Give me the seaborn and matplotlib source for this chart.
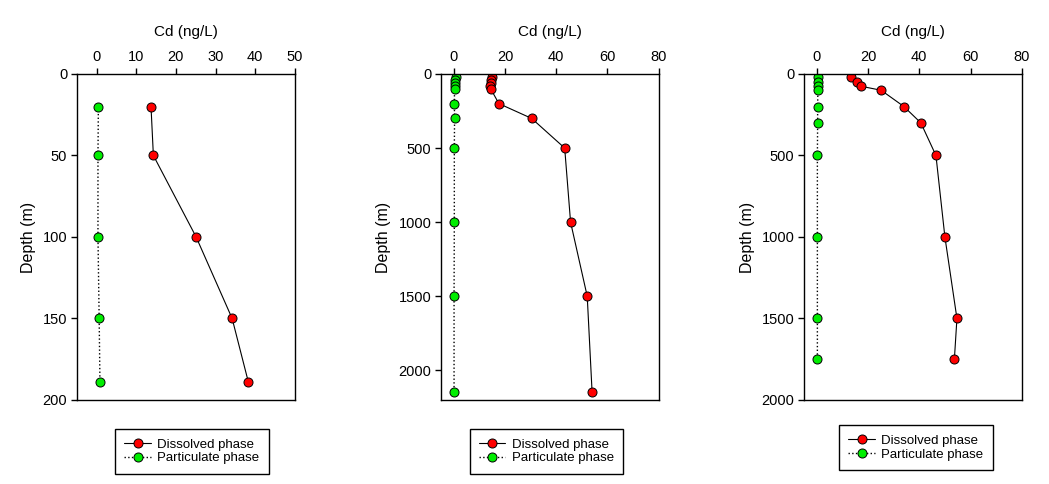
import numpy as np
import pandas as pd
import matplotlib
matplotlib.use('Agg')
import matplotlib.pyplot as plt
import seaborn as sns

# Station 1
depth_1 = [20, 50, 100, 150, 189]
dissolved_1 = [13.7, 14.3, 25.1, 34.2, 38.3]
particulate_1 = [0.4, 0.3, 0.3, 0.6, 0.8]

# Station 2
depth_2 = [20, 40, 60, 80, 100, 200, 300, 500, 1000, 1500, 2146]
dissolved_2 = [15.1, 14.6, 14.4, 14.3, 14.4, 17.6, 30.4, 43.3, 45.6, 52.1, 54.0]
particulate_2 = [1.0, 0.6, 0.5, 0.4, 0.3, 0.2, 0.3, 0.2, 0.2, 0.1, 0.1]

# Station 3
depth_3 = [20, 50, 75, 100, 200, 300, 500, 1000, 1500, 1750]
dissolved_3 = [13.2, 15.5, 17.1, 25.1, 34.0, 40.6, 46.5, 50.0, 54.7, 53.7]
particulate_3 = [0.3, 0.3, 0.3, 0.4, 0.3, 0.3, 0.2, 0.2, 0.2, 0.2]

panels = [
    (depth_1, dissolved_1, particulate_1, (-5, 50), range(0, 51, 10), 200, range(0, 201, 50)),
    (depth_2, dissolved_2, particulate_2, (-5, 80), range(0, 81, 20), 2200, range(0, 2001, 500)),
    (depth_3, dissolved_3, particulate_3, (-5, 80), range(0, 81, 20), 2000, range(0, 2001, 500)),
]

# axes placement (figure fractions) and legend anchors
ax_lefts = [0.0734, 0.4204, 0.7665]
legend_anchor = [(0.528, -0.07), (0.484, -0.07), (0.514, -0.058)]

sns.set_style('ticks')
plt.rcParams['font.family'] = ['Liberation Sans', 'DejaVu Sans']
plt.rcParams['font.size'] = 10.5
plt.rcParams['text.color'] = 'black'
plt.rcParams['axes.labelcolor'] = 'black'
plt.rcParams['xtick.color'] = 'black'
plt.rcParams['ytick.color'] = 'black'

fig = plt.figure(figsize=(10.49, 4.84), dpi=100)

for i, (depth, diss, part, xlim, xticks, ymax, yticks) in enumerate(panels):
    ax = fig.add_axes([ax_lefts[i], 0.1736, 0.2075, 0.6736])
    df = pd.DataFrame({'depth': depth, 'diss': diss, 'part': part})

    # profiles: connect points in depth order
    sns.lineplot(data=df, x='diss', y='depth', orient='y', estimator=None, ax=ax,
                 color='black', linewidth=0.8, marker='o', markersize=6.5,
                 markerfacecolor='red', markeredgecolor='black', markeredgewidth=0.7,
                 label='Dissolved phase')
    sns.lineplot(data=df, x='part', y='depth', orient='y', estimator=None, ax=ax,
                 color='black', linewidth=1.0, linestyle=':', marker='o', markersize=6.5,
                 markerfacecolor='#00ee00', markeredgecolor='black', markeredgewidth=0.7,
                 label='Particulate phase')

    ax.set_xlim(*xlim)
    ax.set_ylim(ymax, 0)
    ax.set_xticks(list(xticks))
    ax.set_yticks(list(yticks))
    ax.xaxis.tick_top()
    ax.xaxis.set_label_position('top')
    ax.set_xlabel('Cd (ng/L)', fontsize=11, labelpad=10)
    ax.set_ylabel('Depth (m)', fontsize=11.5, labelpad=5)
    ax.tick_params(direction='out', length=4, width=1, labelsize=10.5, pad=3)
    for sp in ax.spines.values():
        sp.set_visible(True)
        sp.set_linewidth(1.0)
        sp.set_color('black')

    leg = ax.legend(loc='upper center', bbox_to_anchor=legend_anchor[i], fontsize=9.5,
                    frameon=True, fancybox=False, framealpha=1, edgecolor='black',
                    handlelength=2.0, borderpad=0.7, labelspacing=0.1, handletextpad=0.5)
    leg.get_frame().set_linewidth(1.0)

fig.savefig('out.png', dpi=100)
